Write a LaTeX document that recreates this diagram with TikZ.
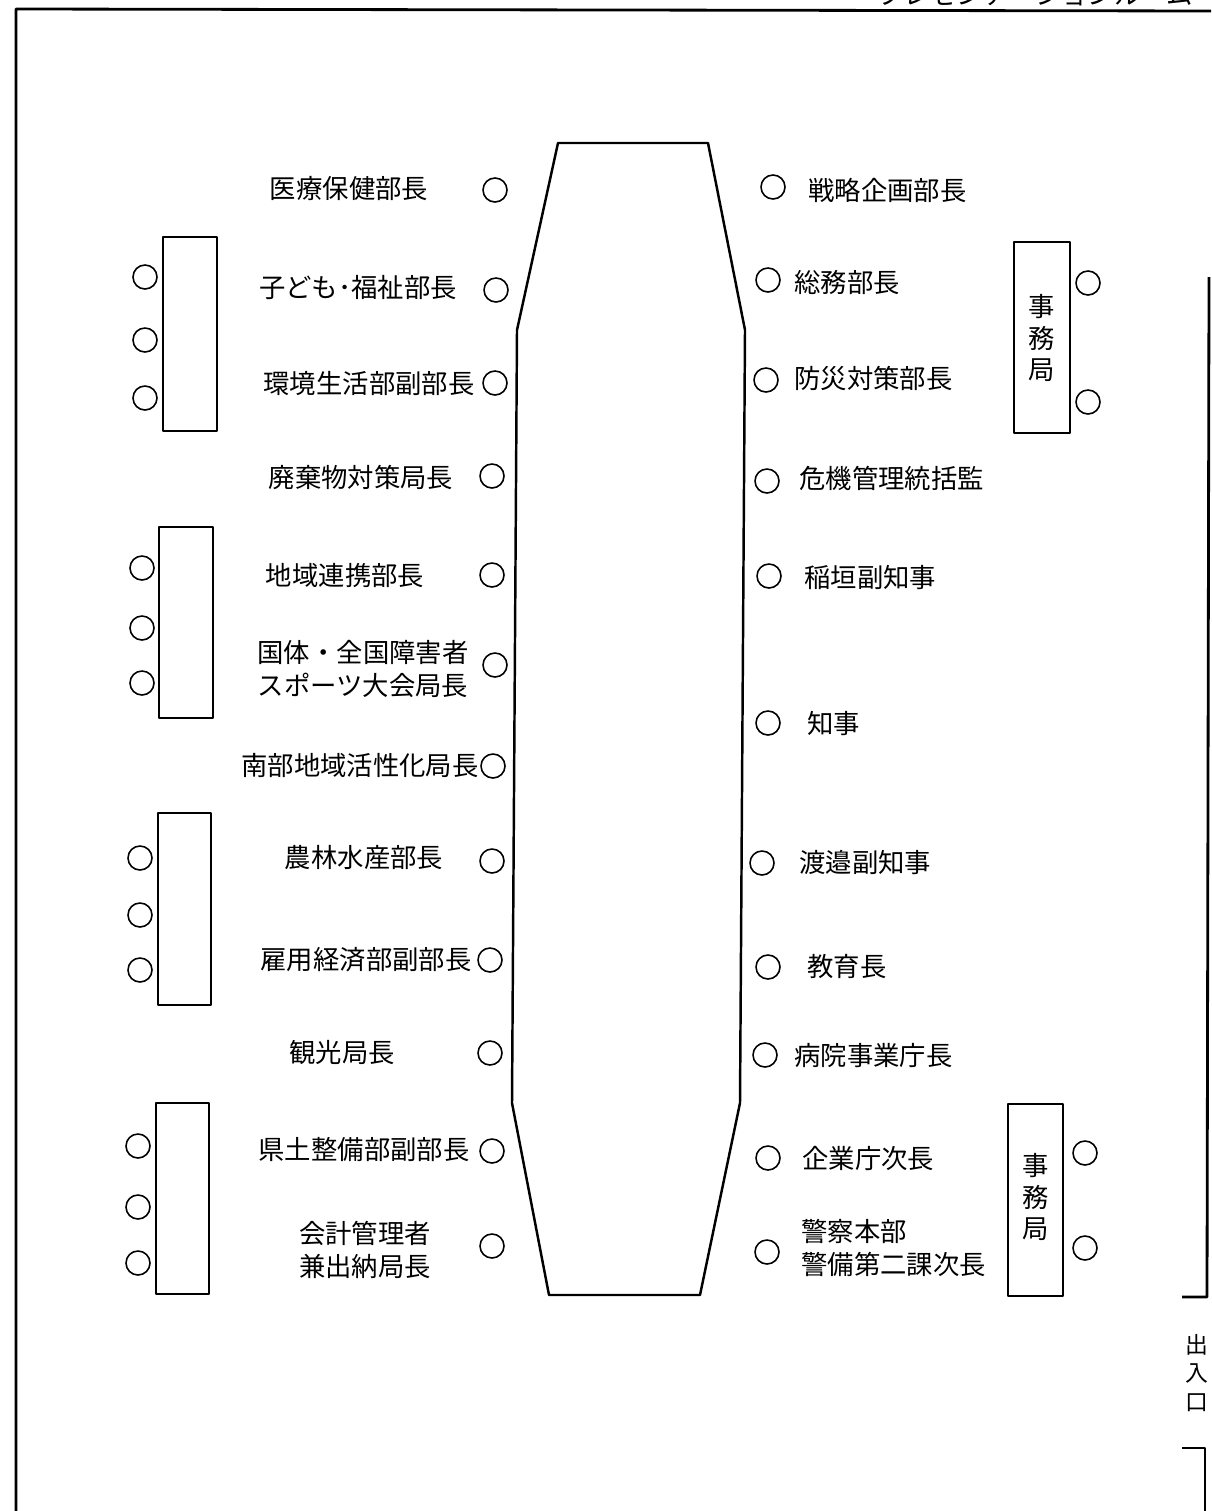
\documentclass[tikz,border=0pt]{standalone}
\usepackage{fontspec}
\setmainfont{Noto Sans CJK JP}
\usetikzlibrary{positioning}

\tikzset{
  seat/.style = {circle, draw, line width=0.9pt, minimum size=0.48cm, inner sep=0pt},
  post/.style = {font=\fontsize{15}{19}\selectfont, inner sep=0pt, align=center},
  desk/.style = {draw, line width=1.2pt},
  wall/.style = {line width=1.6pt},
}

\begin{document}
\begin{tikzpicture}[x=0.02cm, y=-0.02cm, line join=round]
\useasboundingbox (0,0) rectangle (1211,1511);
\clip (0,0) rectangle (1211,1511);

% walls and door
\draw [wall] (16,1511) -- (16,9) -- (1211,11);
\draw [wall] (1209,277) -- (1207,1297) -- (1182,1297);
\draw [wall] (1182,1448) -- (1205,1448) -- (1205,1511);
\node [post] (room) at (1035,-6) {プレゼンテーションルーム};
\node [post, font=\fontsize{13}{16.2}\selectfont] (door) at (1197,1373) {出\\入\\口};

% main table
\draw [line width=1.4pt] (558,143) -- (708,143) -- (745,330) -- (740,1103) -- (700,1295)
  -- (549,1295) -- (512,1103) -- (517,330) -- cycle;

% left row
\node [seat] (l1) at (495,190) {};   \node [post] (t1) at (349,189) {医療保健部長};
\node [seat] (l2) at (496,290) {};   \node [post] (t2) at (358,288) {子ども･福祉部長};
\node [seat] (l3) at (495,383) {};   \node [post] (t3) at (369,384) {環境生活部副部長};
\node [seat] (l4) at (492,476) {};   \node [post] (t4) at (361,477) {廃棄物対策局長};
\node [seat] (l5) at (492,575) {};   \node [post] (t5) at (345,576) {地域連携部長};
\node [seat] (l6) at (495,665) {};   \node [post] (t6) at (363,669) {国体・全国障害者\\スポーツ大会局長};
\node [seat] (l7) at (493,766) {};   \node [post] (t7) at (360,766) {南部地域活性化局長};
\node [seat] (l8) at (492,861) {};   \node [post] (t8) at (364,858) {農林水産部長};
\node [seat] (l9) at (490,960) {};   \node [post] (t9) at (366,960) {雇用経済部副部長};
\node [seat] (l10) at (490,1053) {}; \node [post] (t10) at (342,1053) {観光局長};
\node [seat] (l11) at (492,1151) {}; \node [post] (t11) at (364,1150) {県土整備部副部長};
\node [seat] (l12) at (492,1246) {}; \node [post] (t12) at (365,1250) {会計管理者\\兼出納局長};

% right row
\node [seat] (r1) at (773,187) {};   \node [post, anchor=west] (s1) at (808,190) {戦略企画部長};
\node [seat] (r2) at (768,280) {};   \node [post, anchor=west] (s2) at (794,283) {総務部長};
\node [seat] (r3) at (766,380) {};   \node [post, anchor=west] (s3) at (794,378) {防災対策部長};
\node [seat] (r4) at (767,481) {};   \node [post, anchor=west] (s4) at (799,478) {危機管理統括監};
\node [seat] (r5) at (769,576) {};   \node [post, anchor=west] (s5) at (804,578) {稲垣副知事};
\node [seat] (r6) at (768,723) {};   \node [post, anchor=west] (s6) at (807,724) {知事};
\node [seat] (r7) at (762,863) {};   \node [post, anchor=west] (s7) at (799,862) {渡邉副知事};
\node [seat] (r8) at (768,967) {};   \node [post, anchor=west] (s8) at (807,966) {教育長};
\node [seat] (r9) at (765,1055) {};  \node [post, anchor=west] (s9) at (794,1055) {病院事業庁長};
\node [seat] (r10) at (768,1158) {}; \node [post, anchor=west] (s10) at (802,1158) {企業庁次長};
\node [seat] (r11) at (767,1252) {}; \node [post, anchor=west, align=left] (s11) at (801,1248) {警察本部\\警備第二課次長};

% side tables, left
\draw [desk] (163,237) rectangle (217,431);
\node [seat] (a1) at (145,277) {}; \node [seat] (a2) at (145,340) {}; \node [seat] (a3) at (145,398) {};
\draw [desk] (159,527) rectangle (213,718);
\node [seat] (b1) at (142,568) {}; \node [seat] (b2) at (142,628) {}; \node [seat] (b3) at (142,683) {};
\draw [desk] (158,813) rectangle (211,1005);
\node [seat] (c1) at (140,858) {}; \node [seat] (c2) at (140,915) {}; \node [seat] (c3) at (140,970) {};
\draw [desk] (156,1103) rectangle (209,1294);
\node [seat] (d1) at (138,1146) {}; \node [seat] (d2) at (138,1207) {}; \node [seat] (d3) at (138,1263) {};

% side tables, right
\draw [desk] (1014,242) rectangle (1070,433);
\node [post, font=\fontsize{15}{18}\selectfont] (e0) at (1042,338) {事\\務\\局};
\node [seat] (e1) at (1088,283) {}; \node [seat] (e2) at (1088,402) {};
\draw [desk] (1008,1104) rectangle (1063,1296);
\node [post, font=\fontsize{15}{18}\selectfont] (f0) at (1036,1197) {事\\務\\局};
\node [seat] (f1) at (1085,1153) {}; \node [seat] (f2) at (1085,1248) {};

\end{tikzpicture}
\end{document}
